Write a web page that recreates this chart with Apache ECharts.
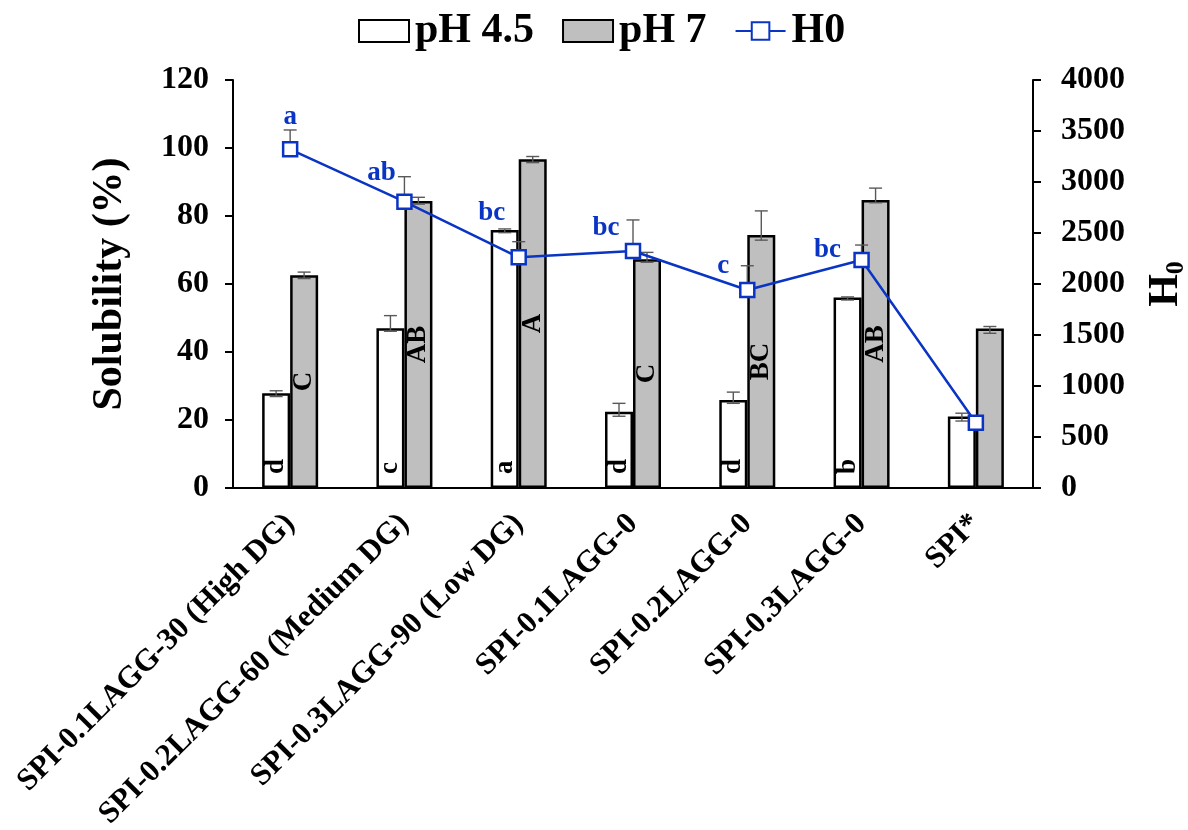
<!DOCTYPE html>
<html>
<head>
<meta charset="utf-8">
<script src="https://cdn.jsdelivr.net/npm/echarts@6/dist/echarts.min.js"></script>
<style>html,body{margin:0;padding:0;background:#fff}#c{width:1188px;height:830px}</style>
</head>
<body>
<div id="c"></div>
<script>
// ---- data ----
const categories = ['SPI-0.1LAGG-30 (High DG)', 'SPI-0.2LAGG-60 (Medium DG)', 'SPI-0.3LAGG-90 (Low DG)', 'SPI-0.1LAGG-0', 'SPI-0.2LAGG-0', 'SPI-0.3LAGG-0', 'SPI*'];
const ph45 = [27.9, 47.0, 75.9, 22.4, 25.9, 56.0, 21.0];
const ph45ErrUp = [0.7, 3.7, 0.3, 2.5, 2.3, 0.2, 1.0];
const ph45ErrDown = [1.0, 0.9, 0.8, 1.3, 1.0, 0.7, 1.3];
const ph45Letters = ['d', 'c', 'a', 'd', 'd', 'b', ''];
const ph7 = [62.6, 84.4, 96.7, 67.3, 74.4, 84.7, 46.9];
const ph7ErrUp = [0.9, 1.1, 0.8, 2.0, 7.1, 3.5, 0.6];
const ph7ErrDown = [1.0, 0.9, 1.0, 0.9, 1.5, 0.8, 1.4];
const ph7Letters = ['C', 'AB', 'A', 'C', 'BC', 'AB', ''];
const h0 = [3320, 2807, 2262, 2324, 1941, 2235, 640];
const h0ErrUp = [190, 245, 153, 304, 238, 147, 30];
const h0Letters = ['a', 'ab', 'bc', 'bc', 'c', 'bc', ''];
const leftTicks = [0, 20, 40, 60, 80, 100, 120];
const rightTicks = [0, 500, 1000, 1500, 2000, 2500, 3000, 3500, 4000];

// ---- styling ----
const FONT = "'Liberation Serif', 'Times New Roman', serif";
const BLUE = '#0a35c4';
const ERR = '#595959';
const BAR_FRAC = 0.245;
const h0LabelOffsets = [[0, -32], [-23, -29], [-27, -44], [-27, -23], [-24, -24], [-34, -10], [0, 0]];

function errRenderer(sign, lowerToo) {
  return function (params, api) {
    const i = api.value(0), v = api.value(1), up = api.value(2), dn = api.value(3);
    const bw = api.size([1, 0])[0];
    const x = api.coord([i, v])[0] + sign * bw * BAR_FRAC / 2;
    const yTop = api.coord([i, v + up])[1];
    const yMid = api.coord([i, v])[1];
    const yBot = api.coord([i, v - dn])[1];
    const hw = 6.5;
    const st = { stroke: ERR, lineWidth: 1.4 };
    const ch = [
      { type: 'line', shape: { x1: x, y1: yTop, x2: x, y2: lowerToo ? yBot : yMid }, style: st },
      { type: 'line', shape: { x1: x - hw, y1: yTop, x2: x + hw, y2: yTop }, style: st }
    ];
    if (lowerToo) ch.push({ type: 'line', shape: { x1: x - hw, y1: yBot, x2: x + hw, y2: yBot }, style: st });
    return { type: 'group', children: ch };
  };
}

const chart = echarts.init(document.getElementById('c'), null, { renderer: 'canvas' });
const option = {
  animation: false,
  backgroundColor: '#fff',
  textStyle: { fontFamily: FONT, fontWeight: 'bold', color: '#000' },
  legend: {
    top: 5,
    left: 353,
    itemGap: 28,
    itemWidth: 50,
    itemHeight: 22,
    textStyle: { fontFamily: FONT, fontWeight: 'bold', fontSize: 42, color: '#000', padding: [0, 0, 0, 1] },
    data: [
      { name: 'pH 4.5', icon: 'rect', itemStyle: { color: '#fff', borderColor: '#000', borderWidth: 2 } },
      { name: 'pH 7', icon: 'rect', itemStyle: { color: '#bfbfbf', borderColor: '#000', borderWidth: 2 } },
      { name: 'H0' }
    ]
  },
  grid: { left: 233, right: 155, top: 80, bottom: 342, containLabel: false, outerBoundsMode: 'none' },
  xAxis: {
    type: 'category',
    data: categories,
    axisLine: { lineStyle: { color: '#000', width: 2 } },
    axisTick: { alignWithLabel: true, length: 8, lineStyle: { color: '#000', width: 2 } },
    axisLabel: { rotate: 45, margin: 31, interval: 0, fontFamily: FONT, fontWeight: 'bold', fontSize: 31, color: '#000' }
  },
  yAxis: [
    {
      type: 'value', min: 0, max: 120, interval: 20,
      name: 'Solubility (%)', nameLocation: 'middle', nameGap: 102,
      nameTextStyle: { fontFamily: FONT, fontWeight: 'bold', fontSize: 42, color: '#000' },
      axisLine: { show: true, lineStyle: { color: '#000', width: 2 } },
      axisTick: { show: true, length: 8, lineStyle: { color: '#000', width: 2 } },
      axisLabel: { margin: 24, fontFamily: FONT, fontWeight: 'bold', fontSize: 32, color: '#000',
        formatter: v => leftTicks.includes(v) ? String(v) : '' },
      splitLine: { show: false }
    },
    {
      type: 'value', min: 0, max: 4000, interval: 500, position: 'right',
      name: '{h|H}{s|0}', nameLocation: 'middle', nameGap: 110,
      nameTextStyle: { fontFamily: FONT, fontWeight: 'bold', color: '#000',
        rich: {
          h: { fontFamily: FONT, fontWeight: 'bold', fontSize: 42, color: '#000' },
          s: { fontFamily: FONT, fontWeight: 'bold', fontSize: 26, color: '#000', padding: [20, 0, 0, 0] }
        } },
      axisLine: { show: true, lineStyle: { color: '#000', width: 2 } },
      axisTick: { show: true, length: 8, lineStyle: { color: '#000', width: 2 } },
      axisLabel: { margin: 28, fontFamily: FONT, fontWeight: 'bold', fontSize: 32, color: '#000',
        formatter: v => rightTicks.includes(v) ? String(v) : '' },
      splitLine: { show: false }
    }
  ],
  series: [
    {
      name: 'pH 4.5', type: 'bar', barWidth: (BAR_FRAC * 100) + '%', barGap: '0%',
      data: ph45,
      itemStyle: { color: '#fff', borderColor: '#000', borderWidth: 2.5 },
      label: { show: true, position: 'insideBottom', distance: 14, rotate: 90, align: 'left', verticalAlign: 'middle',
        fontFamily: FONT, fontWeight: 'bold', fontSize: 27, color: '#000',
        formatter: p => ph45Letters[p.dataIndex] }
    },
    {
      name: 'pH 7', type: 'bar', barWidth: (BAR_FRAC * 100) + '%', barGap: '0%',
      data: ph7,
      itemStyle: { color: '#bfbfbf', borderColor: '#000', borderWidth: 2.5 },
      label: { show: true, position: 'inside', rotate: 90, align: 'center', verticalAlign: 'middle',
        fontFamily: FONT, fontWeight: 'bold', fontSize: 27, color: '#000',
        formatter: p => ph7Letters[p.dataIndex] }
    },
    {
      type: 'custom', name: 'errA', renderItem: errRenderer(-1, true), z: 5,
      encode: { x: 0, y: 1 },
      data: ph45.map((v, i) => [i, v, ph45ErrUp[i], ph45ErrDown[i]])
    },
    {
      type: 'custom', name: 'errB', renderItem: errRenderer(1, true), z: 5,
      encode: { x: 0, y: 1 },
      data: ph7.map((v, i) => [i, v, ph7ErrUp[i], ph7ErrDown[i]])
    },
    {
      type: 'custom', name: 'errH', yAxisIndex: 1, renderItem: errRenderer(0, false), z: 6,
      encode: { x: 0, y: 1 },
      data: h0.map((v, i) => [i, v, h0ErrUp[i], 0])
    },
    {
      name: 'H0', type: 'line', yAxisIndex: 1, z: 10,
      symbol: 'rect', symbolSize: 14,
      lineStyle: { color: BLUE, width: 2.5 },
      itemStyle: { color: '#fff', borderColor: BLUE, borderWidth: 2.5 },
      data: h0.map((v, i) => ({
        value: v,
        label: { show: !!h0Letters[i], position: 'inside', offset: h0LabelOffsets[i],
          formatter: h0Letters[i], fontFamily: FONT, fontWeight: 'bold', fontSize: 27, color: BLUE }
      }))
    }
  ]
};
chart.setOption(option);
</script>
</body>
</html>
